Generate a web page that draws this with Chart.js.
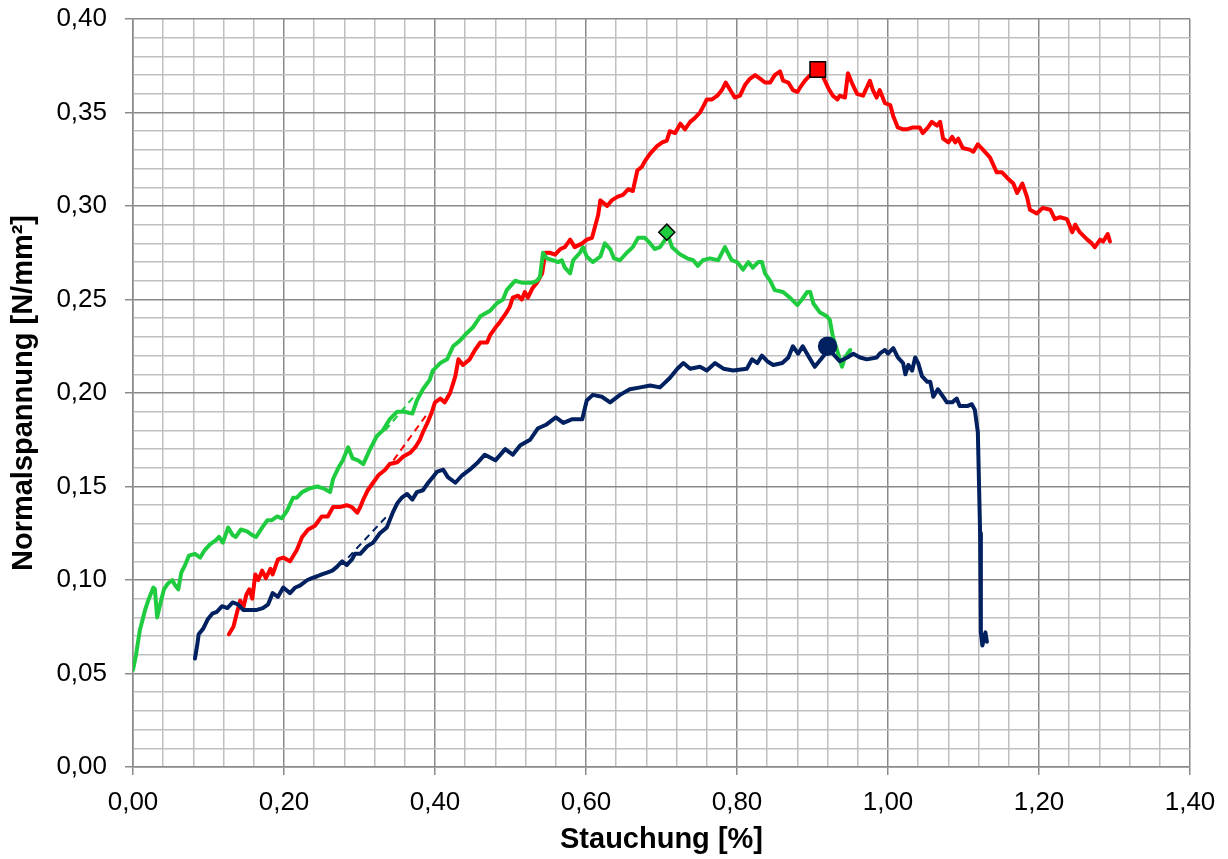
<!DOCTYPE html>
<html>
<head>
<meta charset="utf-8">
<script src="https://cdn.jsdelivr.net/npm/chart.js@4.4.1/dist/chart.umd.min.js"></script>
<style>
  html, body { margin: 0; padding: 0; background: #fff; }
  #wrap { width: 1228px; height: 859px; }
</style>
</head>
<body>
<div id="wrap"><canvas id="chart"></canvas></div>
<script>
// Measured curves [Stauchung %, Normalspannung N/mm²]
const greenCurve = [[0.000,0.052],[0.004,0.060],[0.009,0.073],[0.016,0.084],[0.021,0.090],[0.027,0.096],[0.029,0.095],[0.032,0.080],[0.036,0.087],[0.041,0.095],[0.046,0.098],[0.052,0.100],[0.056,0.097],[0.060,0.095],[0.064,0.104],[0.069,0.108],[0.074,0.113],[0.082,0.114],[0.089,0.112],[0.095,0.116],[0.102,0.119],[0.109,0.121],[0.114,0.123],[0.119,0.120],[0.126,0.128],[0.132,0.124],[0.136,0.123],[0.143,0.127],[0.151,0.126],[0.158,0.124],[0.163,0.123],[0.171,0.128],[0.178,0.132],[0.184,0.132],[0.191,0.134],[0.197,0.133],[0.204,0.137],[0.212,0.144],[0.217,0.144],[0.224,0.147],[0.234,0.149],[0.244,0.150],[0.252,0.149],[0.261,0.147],[0.265,0.154],[0.272,0.160],[0.278,0.164],[0.285,0.171],[0.291,0.165],[0.298,0.164],[0.305,0.162],[0.314,0.170],[0.323,0.177],[0.331,0.180],[0.340,0.186],[0.350,0.190],[0.360,0.190],[0.370,0.189],[0.376,0.196],[0.384,0.202],[0.393,0.207],[0.397,0.212],[0.407,0.216],[0.416,0.218],[0.424,0.225],[0.433,0.228],[0.442,0.232],[0.450,0.235],[0.460,0.241],[0.473,0.244],[0.482,0.248],[0.490,0.250],[0.495,0.255],[0.506,0.260],[0.515,0.259],[0.522,0.259],[0.529,0.259],[0.535,0.260],[0.539,0.262],[0.543,0.275],[0.548,0.272],[0.556,0.271],[0.563,0.270],[0.568,0.271],[0.572,0.267],[0.579,0.264],[0.583,0.271],[0.592,0.275],[0.596,0.278],[0.601,0.273],[0.609,0.270],[0.619,0.273],[0.625,0.280],[0.632,0.277],[0.637,0.272],[0.645,0.271],[0.654,0.275],[0.662,0.278],[0.669,0.283],[0.678,0.283],[0.685,0.280],[0.691,0.277],[0.698,0.278],[0.705,0.282],[0.707,0.286],[0.714,0.278],[0.725,0.274],[0.734,0.272],[0.742,0.271],[0.748,0.268],[0.755,0.271],[0.764,0.272],[0.775,0.271],[0.784,0.278],[0.793,0.271],[0.800,0.270],[0.808,0.266],[0.815,0.270],[0.821,0.267],[0.828,0.270],[0.833,0.270],[0.837,0.264],[0.844,0.260],[0.850,0.255],[0.861,0.254],[0.870,0.251],[0.880,0.247],[0.886,0.250],[0.893,0.254],[0.897,0.254],[0.901,0.248],[0.910,0.243],[0.919,0.241],[0.923,0.239],[0.927,0.230],[0.934,0.221],[0.939,0.214],[0.943,0.219],[0.950,0.223]];

const redCurve = [[0.127,0.071],[0.133,0.075],[0.138,0.083],[0.142,0.089],[0.146,0.085],[0.150,0.092],[0.154,0.095],[0.158,0.090],[0.162,0.103],[0.166,0.100],[0.171,0.105],[0.176,0.101],[0.182,0.106],[0.185,0.103],[0.192,0.111],[0.199,0.112],[0.208,0.110],[0.217,0.116],[0.224,0.123],[0.232,0.127],[0.241,0.129],[0.250,0.134],[0.258,0.134],[0.265,0.139],[0.274,0.139],[0.283,0.140],[0.290,0.139],[0.297,0.136],[0.301,0.139],[0.305,0.143],[0.311,0.148],[0.318,0.152],[0.325,0.156],[0.334,0.159],[0.340,0.162],[0.350,0.163],[0.358,0.166],[0.367,0.168],[0.374,0.171],[0.380,0.175],[0.384,0.179],[0.391,0.185],[0.396,0.190],[0.400,0.195],[0.407,0.197],[0.413,0.195],[0.420,0.200],[0.427,0.209],[0.431,0.218],[0.437,0.215],[0.446,0.218],[0.453,0.223],[0.460,0.227],[0.469,0.227],[0.473,0.231],[0.480,0.235],[0.486,0.238],[0.493,0.242],[0.499,0.246],[0.503,0.251],[0.510,0.252],[0.515,0.250],[0.519,0.254],[0.523,0.251],[0.529,0.256],[0.535,0.259],[0.542,0.264],[0.546,0.275],[0.552,0.275],[0.559,0.274],[0.566,0.277],[0.572,0.278],[0.579,0.282],[0.585,0.278],[0.595,0.280],[0.601,0.282],[0.608,0.283],[0.612,0.289],[0.616,0.295],[0.619,0.303],[0.628,0.300],[0.634,0.303],[0.642,0.305],[0.649,0.306],[0.656,0.309],[0.662,0.308],[0.668,0.319],[0.674,0.321],[0.678,0.324],[0.685,0.328],[0.694,0.332],[0.701,0.334],[0.707,0.335],[0.711,0.340],[0.718,0.339],[0.725,0.344],[0.731,0.341],[0.738,0.345],[0.744,0.347],[0.751,0.350],[0.755,0.353],[0.760,0.357],[0.767,0.357],[0.774,0.359],[0.780,0.362],[0.785,0.366],[0.791,0.362],[0.797,0.358],[0.804,0.359],[0.811,0.365],[0.817,0.368],[0.824,0.370],[0.831,0.368],[0.837,0.366],[0.844,0.366],[0.850,0.370],[0.857,0.372],[0.861,0.367],[0.868,0.366],[0.874,0.362],[0.880,0.361],[0.883,0.363],[0.890,0.367],[0.897,0.370],[0.905,0.372],[0.914,0.369],[0.921,0.363],[0.927,0.359],[0.933,0.357],[0.936,0.359],[0.943,0.358],[0.947,0.371],[0.952,0.366],[0.959,0.360],[0.967,0.359],[0.976,0.367],[0.980,0.362],[0.985,0.358],[0.989,0.362],[0.996,0.355],[1.003,0.354],[1.007,0.348],[1.013,0.342],[1.020,0.341],[1.025,0.341],[1.033,0.342],[1.042,0.342],[1.046,0.339],[1.053,0.342],[1.058,0.345],[1.065,0.343],[1.069,0.345],[1.073,0.336],[1.080,0.334],[1.085,0.337],[1.089,0.334],[1.093,0.336],[1.099,0.331],[1.109,0.330],[1.113,0.329],[1.119,0.333],[1.126,0.330],[1.135,0.326],[1.144,0.318],[1.151,0.318],[1.158,0.315],[1.166,0.312],[1.171,0.307],[1.178,0.312],[1.184,0.305],[1.188,0.298],[1.197,0.296],[1.205,0.299],[1.215,0.298],[1.221,0.293],[1.228,0.294],[1.237,0.293],[1.244,0.286],[1.248,0.290],[1.254,0.286],[1.264,0.282],[1.270,0.280],[1.274,0.278],[1.281,0.282],[1.285,0.281],[1.291,0.285],[1.294,0.281]];

const navyCurve = [[0.082,0.058],[0.085,0.065],[0.087,0.071],[0.093,0.074],[0.099,0.079],[0.105,0.082],[0.111,0.083],[0.118,0.086],[0.125,0.085],[0.132,0.088],[0.139,0.087],[0.146,0.084],[0.155,0.084],[0.164,0.084],[0.172,0.085],[0.179,0.087],[0.185,0.093],[0.192,0.091],[0.199,0.096],[0.208,0.093],[0.215,0.096],[0.221,0.097],[0.231,0.100],[0.237,0.101],[0.244,0.102],[0.250,0.103],[0.257,0.104],[0.264,0.105],[0.270,0.107],[0.277,0.110],[0.283,0.108],[0.290,0.111],[0.294,0.114],[0.301,0.114],[0.310,0.118],[0.318,0.120],[0.327,0.125],[0.336,0.128],[0.344,0.136],[0.350,0.141],[0.356,0.144],[0.363,0.146],[0.370,0.143],[0.376,0.147],[0.384,0.148],[0.391,0.152],[0.397,0.155],[0.403,0.158],[0.411,0.159],[0.417,0.155],[0.427,0.152],[0.436,0.156],[0.446,0.159],[0.457,0.163],[0.466,0.167],[0.480,0.164],[0.493,0.170],[0.503,0.167],[0.513,0.172],[0.526,0.175],[0.536,0.181],[0.547,0.183],[0.560,0.187],[0.570,0.184],[0.582,0.186],[0.595,0.186],[0.601,0.196],[0.609,0.199],[0.621,0.198],[0.632,0.195],[0.645,0.199],[0.658,0.202],[0.672,0.203],[0.685,0.204],[0.698,0.203],[0.711,0.208],[0.721,0.213],[0.729,0.216],[0.738,0.213],[0.751,0.214],[0.760,0.212],[0.771,0.216],[0.782,0.213],[0.795,0.212],[0.813,0.213],[0.820,0.218],[0.827,0.216],[0.833,0.220],[0.840,0.217],[0.848,0.215],[0.860,0.216],[0.868,0.219],[0.874,0.225],[0.881,0.221],[0.887,0.225],[0.897,0.218],[0.903,0.214],[0.913,0.219],[0.921,0.223],[0.927,0.221],[0.936,0.217],[0.946,0.219],[0.954,0.221],[0.963,0.219],[0.972,0.218],[0.985,0.219],[0.989,0.221],[0.996,0.223],[1.000,0.221],[1.007,0.224],[1.013,0.219],[1.020,0.216],[1.023,0.210],[1.027,0.215],[1.032,0.212],[1.036,0.219],[1.040,0.216],[1.045,0.209],[1.052,0.206],[1.056,0.206],[1.060,0.198],[1.066,0.202],[1.073,0.198],[1.078,0.195],[1.085,0.195],[1.091,0.197],[1.095,0.193],[1.105,0.193],[1.111,0.194],[1.115,0.191],[1.119,0.179],[1.122,0.125],[1.123,0.072],[1.125,0.065],[1.129,0.072],[1.131,0.067]];

// linear fits (dashed)
const greenFit = [[0.334,0.180],[0.376,0.200]];
const redFit = [[0.345,0.164],[0.390,0.189]];
const navyFit = [[0.285,0.112],[0.336,0.134]];

// maxima
const greenPeak = [0.707, 0.286];
const redPeak = [0.907, 0.373];
const navyPeak = [0.920, 0.225];

const xTicks = [0, 0.2, 0.4, 0.6, 0.8, 1.0, 1.2, 1.4];
const yTicks = [0, 0.05, 0.10, 0.15, 0.20, 0.25, 0.30, 0.35, 0.40];

const GREEN = '#1fcc3f';
const RED = '#ff0000';
const NAVY = '#002060';
const FONT = "'Liberation Sans', Arial, sans-serif";

const pts = arr => arr.map(p => ({ x: p[0], y: p[1] }));
const near = (v, list) => list.some(t => Math.abs(t - v) < 1e-6);

function curve(data, color, order) {
  return { data: pts(data), borderColor: color, borderWidth: 4, pointRadius: 0,
    borderJoinStyle: 'round', borderCapStyle: 'round',
    showLine: true, tension: 0, order: order };
}
function fit(data, color) {
  return { data: pts(data), borderColor: color, borderWidth: 2, borderDash: [7, 5],
    pointRadius: 0, showLine: true, order: 5 };
}
function peak(p, style, color, radius, border) {
  return { data: [{ x: p[0], y: p[1] }], pointStyle: style, pointRadius: radius,
    backgroundColor: color, borderColor: border, pointBorderWidth: 1.5,
    pointBorderColor: border, showLine: false, order: 0 };
}

const ctx = document.getElementById('chart').getContext('2d');
new Chart(ctx, {
  type: 'scatter',
  data: {
    datasets: [
      fit(navyFit, NAVY),
      fit(redFit, RED),
      fit(greenFit, GREEN),
      curve(redCurve, RED, 3),
      curve(greenCurve, GREEN, 2),
      curve(navyCurve, NAVY, 1),
      peak(redPeak, 'rect', RED, 11, '#000'),
      peak(greenPeak, 'rectRot', GREEN, 8, '#000'),
      peak(navyPeak, 'circle', NAVY, 9, NAVY)
    ]
  },
  options: {
    responsive: true,
    maintainAspectRatio: false,
    animation: false,
    layout: { padding: { top: 19, right: 38, left: 0, bottom: 0 } },
    plugins: { legend: { display: false }, tooltip: { enabled: false } },
    scales: {
      x: {
        type: 'linear', min: 0, max: 1.4,
        afterFit: s => { s.height = 92; s.paddingLeft = 0; s.paddingRight = 0; },
        ticks: {
          stepSize: 0.04, autoSkip: false, maxRotation: 0, maxTicksLimit: 100,
          color: '#000', font: { family: FONT, size: 26 }, padding: 12,
          callback: v => near(v, xTicks) ? v.toFixed(2).replace('.', ',') : ''
        },
        grid: {
          color: c => near(c.tick.value, xTicks) ? '#8a8a8a' : '#c0c0c0',
          lineWidth: 1.5,
          tickLength: 8,
          tickColor: c => near(c.tick.value, xTicks) ? '#8a8a8a' : 'rgba(0,0,0,0)'
        },
        border: { color: '#8a8a8a', width: 1.5 },
        title: { display: true, text: 'Stauchung [%]', color: '#000',
          font: { family: FONT, size: 29, weight: 'bold' }, padding: { top: 2, bottom: 2 } }
      },
      y: {
        type: 'linear', min: 0, max: 0.4,
        afterFit: s => { s.width = 133; s.paddingTop = 0; s.paddingBottom = 0; },
        ticks: {
          stepSize: 0.01, autoSkip: false, maxTicksLimit: 100,
          color: '#000', font: { family: FONT, size: 26 }, padding: 18,
          callback: v => near(v, yTicks) ? v.toFixed(2).replace('.', ',') : ''
        },
        grid: {
          color: c => near(c.tick.value, yTicks) ? '#8a8a8a' : '#c0c0c0',
          lineWidth: 1.5,
          tickLength: 8,
          tickColor: c => near(c.tick.value, yTicks) ? '#8a8a8a' : 'rgba(0,0,0,0)'
        },
        border: { color: '#8a8a8a', width: 1.5 },
        title: { display: true, text: 'Normalspannung [N/mm²]', color: '#000',
          font: { family: FONT, size: 29, weight: 'bold' }, padding: { top: 7, bottom: 0 } }
      }
    }
  }
});
</script>
</body>
</html>
